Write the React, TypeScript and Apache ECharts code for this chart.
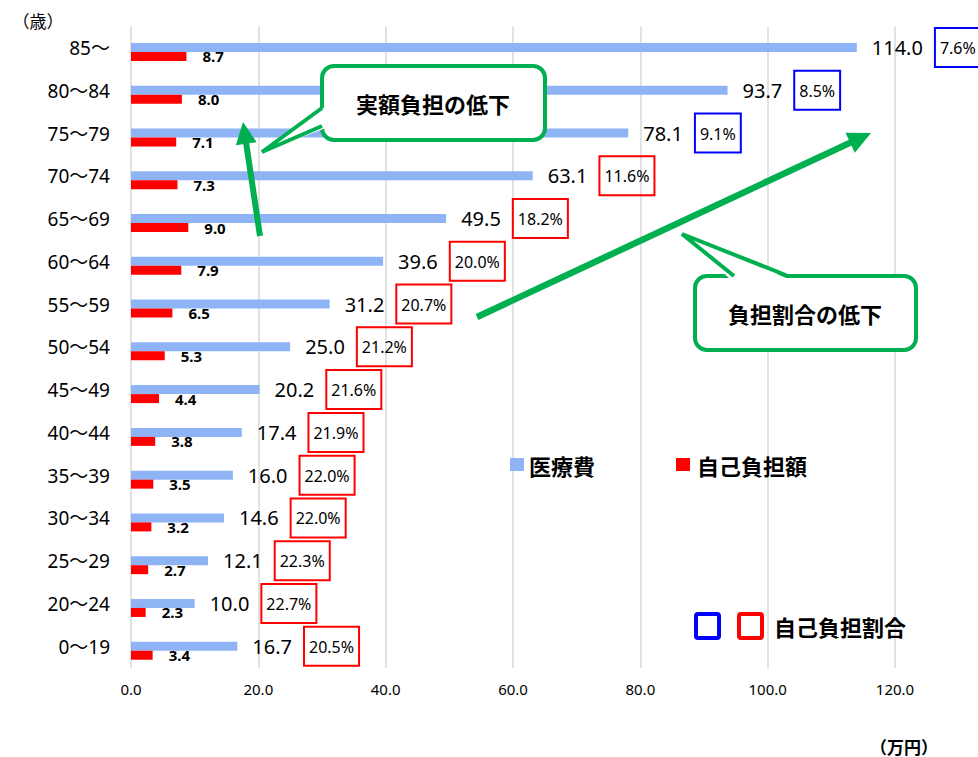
import React, { useEffect, useRef } from "react";
import * as echarts from "echarts";

// ---- data (bottom to top) ----
const categories = ["0～19", "20～24", "25～29", "30～34", "35～39", "40～44", "45～49", "50～54", "55～59", "60～64", "65～69", "70～74", "75～79", "80～84", "85～"];
const medicalCost = [16.7, 10.0, 12.1, 14.6, 16.0, 17.4, 20.2, 25.0, 31.2, 39.6, 49.5, 63.1, 78.1, 93.7, 114.0];
const selfPay = [3.4, 2.3, 2.7, 3.2, 3.5, 3.8, 4.4, 5.3, 6.5, 7.9, 9.0, 7.3, 7.1, 8.0, 8.7];
const selfPayRatio = [20.5, 22.7, 22.3, 22.0, 22.0, 21.9, 21.6, 21.2, 20.7, 20.0, 18.2, 11.6, 9.1, 8.5, 7.6];
const ratioGroup = ["r", "r", "r", "r", "r", "r", "r", "r", "r", "r", "r", "r", "b", "b", "b"];
const xMin = 0;
const xMax = 120;
const xInterval = 20;

const GREEN = "#00B050";
const BLUE_BAR = "#8EB4F6";
const RED = "#FF0000";
const BOX_BLUE = "#0000FF";
const LATIN = "'Noto Sans', 'Noto Sans CJK JP', sans-serif";
const CJK = "'Noto Sans CJK JP', 'Noto Sans', sans-serif";

function arrow(x1: number, y1: number, x2: number, y2: number, w: number, headLen: number, headHalf: number) {
  const dx = x2 - x1;
  const dy = y2 - y1;
  const len = Math.sqrt(dx * dx + dy * dy);
  const ux = dx / len;
  const uy = dy / len;
  const bx = x2 - ux * headLen;
  const by = y2 - uy * headLen;
  const px = -uy;
  const py = ux;
  return [
    {
      type: "line",
      z: 100,
      shape: { x1, y1, x2: bx + ux * 2, y2: by + uy * 2 },
      style: { stroke: GREEN, lineWidth: w },
    },
    {
      type: "polygon",
      z: 100,
      shape: {
        points: [
          [x2, y2],
          [bx + px * headHalf, by + py * headHalf],
          [bx - px * headHalf, by - py * headHalf],
        ],
      },
      style: { fill: GREEN },
    },
  ];
}

export default function App() {
  const ref = useRef<HTMLDivElement>(null);

  useEffect(() => {
    if (!ref.current) return;
    const chart = echarts.init(ref.current, undefined, { renderer: "svg" });

    const graphic: any[] = [
      // axis unit labels
      {
        type: "text",
        z: 100,
        x: 38,
        y: 20,
        style: { text: "（歳）", font: `17px ${CJK}`, fill: "#000", align: "center", verticalAlign: "middle" },
      },
      {
        type: "text",
        z: 100,
        x: 904,
        y: 746,
        style: { text: "（万円）", font: `bold 17px ${CJK}`, fill: "#000", align: "center", verticalAlign: "middle" },
      },
      // legend 1
      { type: "rect", z: 100, shape: { x: 510, y: 458, width: 14, height: 13 }, style: { fill: BLUE_BAR } },
      {
        type: "text",
        z: 100,
        x: 529,
        y: 465,
        style: { text: "医療費", font: `bold 22px ${CJK}`, fill: "#000", align: "left", verticalAlign: "middle" },
      },
      { type: "rect", z: 100, shape: { x: 676, y: 458, width: 14, height: 13 }, style: { fill: RED } },
      {
        type: "text",
        z: 100,
        x: 697,
        y: 465,
        style: { text: "自己負担額", font: `bold 22px ${CJK}`, fill: "#000", align: "left", verticalAlign: "middle" },
      },
      // legend 2
      {
        type: "rect",
        z: 100,
        shape: { x: 696, y: 614, width: 23, height: 24, r: 2 },
        style: { fill: "none", stroke: BOX_BLUE, lineWidth: 4 },
      },
      {
        type: "rect",
        z: 100,
        shape: { x: 739, y: 614, width: 23, height: 24, r: 2 },
        style: { fill: "none", stroke: RED, lineWidth: 4 },
      },
      {
        type: "text",
        z: 100,
        x: 774,
        y: 626,
        style: { text: "自己負担割合", font: `bold 22px ${CJK}`, fill: "#000", align: "left", verticalAlign: "middle" },
      },
      // callout 1
      {
        type: "rect",
        z: 100,
        shape: { x: 322, y: 66, width: 223, height: 74, r: 12 },
        style: { fill: "#fff", stroke: GREEN, lineWidth: 4 },
      },
      {
        type: "polygon",
        z: 101,
        shape: { points: [[326, 106], [262, 152], [326, 128]] },
        style: { fill: "#fff" },
      },
      {
        type: "polyline",
        z: 102,
        shape: { points: [[322, 108], [262, 152], [322, 126]] },
        style: { stroke: GREEN, lineWidth: 4, fill: "none" },
      },
      {
        type: "text",
        z: 103,
        x: 433,
        y: 103,
        style: { text: "実額負担の低下", font: `bold 22px ${CJK}`, fill: "#000", align: "center", verticalAlign: "middle" },
      },
      // callout 2
      {
        type: "rect",
        z: 100,
        shape: { x: 695, y: 276, width: 221, height: 74, r: 12 },
        style: { fill: "#fff", stroke: GREEN, lineWidth: 4 },
      },
      {
        type: "polygon",
        z: 101,
        shape: { points: [[731, 280], [682, 234], [791, 280]] },
        style: { fill: "#fff" },
      },
      {
        type: "polyline",
        z: 102,
        shape: { points: [[734, 276], [682, 234], [788, 276]] },
        style: { stroke: GREEN, lineWidth: 4, fill: "none" },
      },
      {
        type: "text",
        z: 103,
        x: 805,
        y: 313,
        style: { text: "負担割合の低下", font: `bold 22px ${CJK}`, fill: "#000", align: "center", verticalAlign: "middle" },
      },
      ...arrow(260, 236, 243, 122, 6, 22, 10.5),
      ...arrow(477, 317, 871, 133, 6.5, 23, 11),
    ];

    const boxStyle = (color: string) => ({
      fontSize: 16,
      lineHeight: 20,
      fontFamily: LATIN,
      color: "#000",
      borderColor: color,
      borderWidth: 2,
      padding: [12, 5, 11, 5],
    });

    chart.setOption({
      animation: false,
      grid: { left: 131, top: 26.6, width: 764, height: 641.5, outerBoundsMode: "none" },
      xAxis: {
        type: "value",
        min: xMin,
        max: xMax,
        interval: xInterval,
        axisLine: { show: false },
        axisTick: { show: false },
        splitLine: { show: true, lineStyle: { color: "#D9D9D9", width: 1.5 } },
        axisLabel: {
          formatter: (v: number) => v.toFixed(1),
          fontSize: 15,
          fontFamily: LATIN,
          color: "#000",
          margin: 13,
        },
      },
      yAxis: {
        type: "category",
        data: categories,
        axisLine: { show: false },
        axisTick: { show: false },
        splitLine: { show: false },
        axisLabel: {
          fontSize: 19,
          fontFamily: LATIN,
          color: "#000",
          margin: 21,
        },
      },
      graphic,
      series: [
        {
          type: "bar",
          name: "",
          data: [],
          barWidth: 8,
          barGap: "0%",
          silent: true,
          itemStyle: { color: "transparent" },
        },
        {
          type: "bar",
          name: "医療費",
          data: medicalCost,
          barWidth: 9,
          barGap: "0%",
          itemStyle: { color: BLUE_BAR },
          label: {
            show: true,
            position: "right",
            distance: 15,
            formatter: (p: any) =>
              `{v|${Number(p.value).toFixed(1)}}{g| }{${ratioGroup[p.dataIndex]}|${selfPayRatio[p.dataIndex].toFixed(1)}%}`,
            rich: {
              v: { fontSize: 20, fontFamily: LATIN, color: "#000" },
              g: { width: 12 },
              r: boxStyle(RED),
              b: boxStyle(BOX_BLUE),
            },
          },
        },
        {
          type: "bar",
          name: "自己負担額",
          data: selfPay,
          barWidth: 9,
          barGap: "0%",
          itemStyle: { color: RED },
          label: {
            show: true,
            position: "right",
            distance: 16,
            formatter: (p: any) => Number(p.value).toFixed(1),
            fontSize: 15,
            fontWeight: "bold",
            fontFamily: LATIN,
            color: "#000",
          },
        },
      ],
    });

    return () => chart.dispose();
  }, []);

  return <div ref={ref} style={{ position: "absolute", left: 0, top: 0, width: 978, height: 757 }} />;
}
